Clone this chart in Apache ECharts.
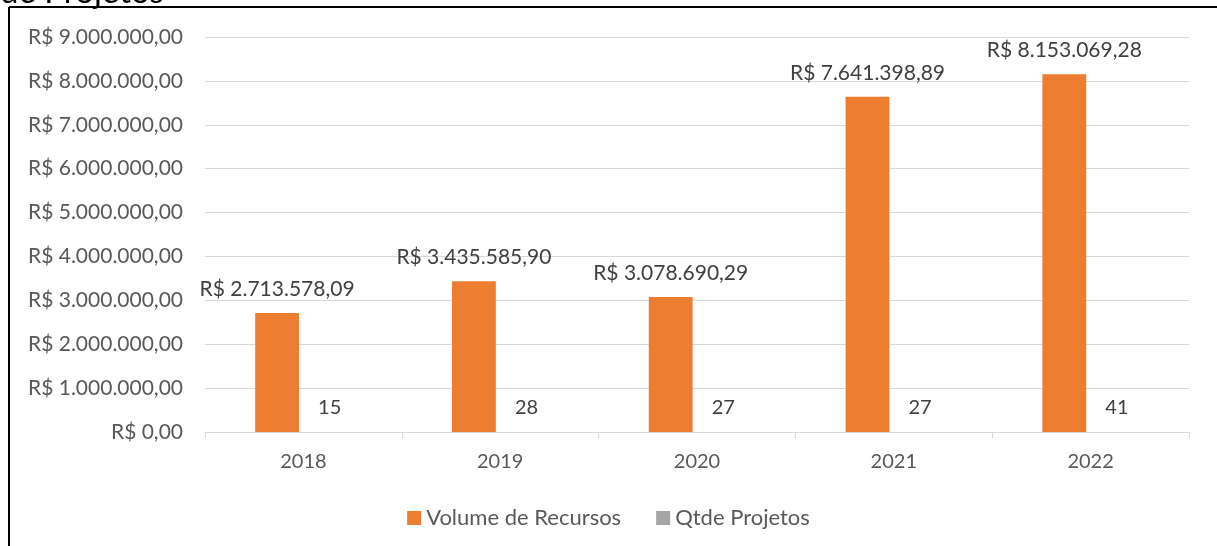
<!DOCTYPE html>
<html><head><meta charset="utf-8">
<script src="https://cdn.jsdelivr.net/npm/echarts@6/dist/echarts.min.js"></script>
<style>html,body{margin:0;padding:0;background:#fff}#c{width:1217px;height:546px}</style>
</head><body><div id="c"></div>
<script>
const categories = ['2018', '2019', '2020', '2021', '2022'];
const volumeRecursos = [2713578.09, 3435585.90, 3078690.29, 7641398.89, 8153069.28];
const qtdeProjetos = [15, 28, 27, 27, 41];
const seriesNames = ['Volume de Recursos', 'Qtde Projetos'];
const titleText = 'de Projetos';

function brl(v) {
  const fixed = Number(v).toFixed(2);
  const parts = fixed.split('.');
  const intPart = parts[0].replace(/\B(?=(\d{3})+(?!\d))/g, '.');
  return 'R$ ' + intPart + ',' + parts[1];
}

const FONT = 'Lato';
const chart = echarts.init(document.getElementById('c'), null, {renderer: 'canvas'});
chart.setOption({
  animation: false,
  textStyle: {fontFamily: FONT},
  graphic: [
    {type: 'text', left: 0, top: -24, style: {text: titleText, font: '33px ' + FONT, fill: '#000'}},
    {type: 'line', shape: {x1: 9, y1: 7, x2: 1217, y2: 7}, style: {stroke: '#000', lineWidth: 2}},
    {type: 'line', shape: {x1: 9, y1: 7, x2: 9, y2: 546}, style: {stroke: '#000', lineWidth: 2}}
  ],
  grid: {left: 205, right: 28, top: 37, bottom: 114, containLabel: false},
  legend: {
    top: 502, left: 'center',
    itemWidth: 14, itemHeight: 14, itemGap: 35,
    icon: 'rect',
    textStyle: {color: '#595959', fontSize: 22, fontFamily: FONT},
    data: seriesNames
  },
  xAxis: {
    type: 'category', data: categories,
    axisLine: {lineStyle: {color: '#d9d9d9', width: 1}},
    axisTick: {show: true, length: 6, lineStyle: {color: '#d9d9d9'}},
    axisLabel: {color: '#595959', fontSize: 20, margin: 20}
  },
  yAxis: {
    type: 'value', min: 0, max: 9000000, interval: 1000000,
    axisLine: {show: false}, axisTick: {show: false},
    splitLine: {lineStyle: {color: '#d9d9d9', width: 1}},
    axisLabel: {color: '#595959', fontSize: 21, margin: 22, formatter: brl}
  },
  series: [
    {
      name: seriesNames[0], type: 'bar', data: volumeRecursos,
      barGap: '20%', barCategoryGap: '51%',
      itemStyle: {color: '#ed7d31'},
      label: {show: true, position: 'top', distance: 13, color: '#404040', fontSize: 21, formatter: p => brl(p.value)}
    },
    {
      name: seriesNames[1], type: 'bar', data: qtdeProjetos,
      itemStyle: {color: '#a5a5a5'},
      label: {show: true, position: 'top', distance: 14, color: '#404040', fontSize: 20}
    }
  ]
});
</script></body></html>
